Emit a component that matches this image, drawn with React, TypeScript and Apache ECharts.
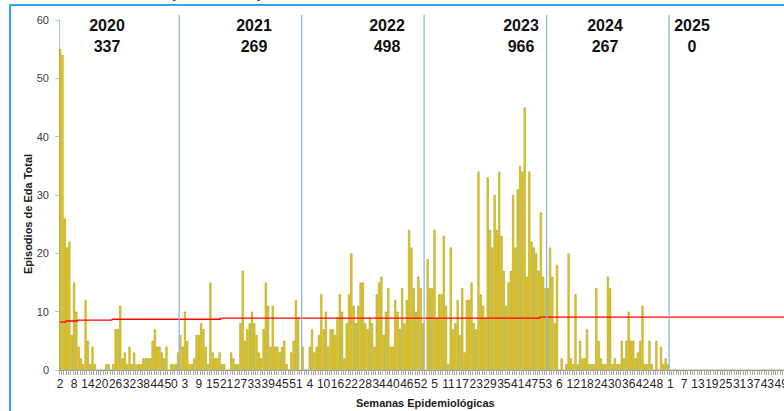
import React, { useEffect, useRef } from "react";
import * as echarts from "echarts";

// ---- data ----
const years = ["2020", "2021", "2022", "2023", "2024", "2025"];
const yearTotals = ["337", "269", "498", "966", "267", "0"];
const firstWeek = [2, 1, 1, 1, 1, 1];
const lastWeek = 53;

const cases2020 = [55, 54, 26, 21, 22, 6, 15, 10, 4, 2, 1, 12, 5, 1, 4, 1, 0, 0, 0, 0, 1, 1, 0, 1, 7, 7, 11, 2, 3, 1, 4, 1, 3, 1, 1, 1, 2, 2, 2, 2, 5, 7, 4, 4, 3, 2, 4, 0, 1, 1, 1, 3];
const cases2021 = [6, 4, 10, 5, 1, 1, 2, 6, 6, 8, 7, 4, 1, 15, 3, 2, 2, 3, 1, 1, 0, 0, 3, 2, 1, 1, 8, 17, 5, 7, 8, 10, 8, 6, 3, 2, 7, 15, 11, 4, 11, 4, 4, 3, 4, 5, 1, 0, 3, 5, 12, 9, 0];
const cases2022 = [4, 0, 0, 4, 7, 3, 4, 6, 13, 7, 10, 4, 7, 7, 6, 9, 13, 10, 2, 8, 13, 20, 11, 8, 11, 15, 15, 8, 7, 9, 8, 4, 13, 15, 16, 6, 10, 14, 4, 4, 12, 10, 7, 14, 8, 12, 24, 21, 14, 10, 16, 14, 8];
const cases2023 = [0, 19, 14, 14, 24, 9, 13, 13, 23, 11, 1, 21, 7, 8, 12, 6, 14, 3, 12, 12, 15, 8, 7, 34, 13, 11, 9, 33, 24, 21, 30, 24, 34, 23, 17, 11, 15, 17, 30, 21, 31, 35, 34, 45, 16, 34, 22, 21, 20, 17, 27, 16, 14];
const cases2024 = [14, 21, 16, 8, 18, 0, 2, 0, 1, 20, 2, 1, 13, 1, 5, 2, 2, 7, 1, 1, 1, 14, 5, 2, 1, 1, 16, 14, 1, 2, 1, 1, 5, 2, 5, 10, 5, 5, 2, 3, 5, 11, 1, 1, 5, 1, 0, 5, 0, 4, 1, 2, 1];
const cases2025 = [0, 0, 0, 0, 0, 0, 0, 0, 0, 0, 0, 0, 0, 0, 0, 0, 0, 0, 0, 0, 0, 0, 0, 0, 0, 0, 0, 0, 0, 0, 0, 0, 0, 0, 0, 0, 0, 0, 0, 0, 0, 0, 0, 0, 0, 0, 0, 0, 0, 0, 0, 0, 0];

// alert threshold (red step line): [number of weeks, value]
const thresholdRuns: [number, number][] = [
  [3, 8.2],
  [5, 8.4],
  [15, 8.55],
  [47, 8.7],
  [138, 8.9],
  [109, 9.05],
];

const yearSeries = [cases2020, cases2021, cases2022, cases2023, cases2024, cases2025];

// ---- layout (pixels) ----
const yearLabelX = [107, 254, 387, 521, 605, 692];
const FONT = "'Liberation Sans', Arial, sans-serif";

export default function App() {
  const ref = useRef<HTMLDivElement>(null);

  useEffect(() => {
    if (!ref.current) return;
    const chart = echarts.init(ref.current, null, { renderer: "svg" });

    const categories: string[] = [];
    const values: number[] = [];
    const yearStartIndex: number[] = [];
    yearSeries.forEach((arr, yi) => {
      yearStartIndex.push(categories.length);
      for (let w = firstWeek[yi]; w <= lastWeek; w++) categories.push(String(w));
      arr.forEach((v) => values.push(v));
    });
    const threshold: number[] = [];
    thresholdRuns.forEach(([n, v]) => {
      for (let k = 0; k < n; k++) threshold.push(v);
    });

    const N = categories.length;
    const catW = 2.311;

    chart.setOption({
      animation: false,
      backgroundColor: "#ffffff",
      grid: { left: 59, top: 20, width: N * catW, height: 350, containLabel: false },
      xAxis: {
        type: "category",
        data: categories,
        boundaryGap: true,
        name: "Semanas Epidemiológicas",
        nameLocation: "middle",
        nameGap: 27,
        nameTextStyle: { fontFamily: FONT, fontSize: 11, fontWeight: "bold", color: "#1a1a1a" },
        axisLine: { lineStyle: { color: "#a6a6a6", width: 1 } },
        axisTick: { show: true, interval: 0, length: 5, lineStyle: { color: "#a6a6a6" } },
        axisLabel: { interval: 5, margin: 8, fontFamily: FONT, fontSize: 12, color: "#262626" },
        splitLine: { show: false },
      },
      yAxis: {
        type: "value",
        min: 0,
        max: 60,
        interval: 10,
        axisLine: { show: true, lineStyle: { color: "#bfbfbf" } },
        axisTick: { show: true, length: 4, lineStyle: { color: "#bfbfbf" } },
        axisLabel: { margin: 10, fontFamily: FONT, fontSize: 11, color: "#404040" },
        splitLine: { show: false },
      },
      series: [
        {
          type: "bar",
          data: values,
          barCategoryGap: "10%",
          itemStyle: { color: "#FFC400", borderColor: "#78973A", borderWidth: 0.45 },
        },
        {
          type: "line",
          data: threshold,
          step: "middle",
          symbol: "none",
          lineStyle: { color: "#FF0000", width: 1.3 },
          z: 5,
        },
      ],
    });

    const graphics: any[] = [];
    // chart frame
    graphics.push({
      type: "rect",
      shape: { x: 10, y: 5, width: 900, height: 500 },
      style: { fill: "none", stroke: "#2EA6E8", lineWidth: 2 },
      silent: true,
    });
    // partially visible title (only its lowest edge shows above the frame)
    graphics.push({
      type: "text",
      x: 170,
      y: -8,
      style: {
        text: "(2020-2025)",
        font: `bold 17px ${FONT}`,
        fill: "#1F3864",
        textAlign: "left",
        textVerticalAlign: "middle",
      },
      silent: true,
    });
    // year separators
    for (let yi = 1; yi < yearStartIndex.length; yi++) {
      const k = yearStartIndex[yi];
      const a = chart.convertToPixel({ xAxisIndex: 0 }, k - 1) as number;
      const b = chart.convertToPixel({ xAxisIndex: 0 }, k) as number;
      const x = (a + b) / 2;
      graphics.push({
        type: "line",
        shape: { x1: x, y1: 15, x2: x, y2: 370 },
        style: { stroke: "#8DB6E4", lineWidth: 1.3 },
        z: 10,
        silent: true,
      });
    }
    // year labels and totals
    years.forEach((y, yi) => {
      graphics.push({
        type: "text",
        x: yearLabelX[yi],
        y: 25,
        style: { text: y, font: `bold 16px ${FONT}`, fill: "#111111", textAlign: "center", textVerticalAlign: "middle" },
        z: 20,
      });
      graphics.push({
        type: "text",
        x: yearLabelX[yi],
        y: 46,
        style: { text: yearTotals[yi], font: `bold 16px ${FONT}`, fill: "#111111", textAlign: "center", textVerticalAlign: "middle" },
        z: 20,
      });
    });
    // y axis title
    graphics.push({
      type: "text",
      x: 28,
      y: 214,
      rotation: Math.PI / 2,
      style: {
        text: "Episodios de Eda Total",
        font: `bold 11px ${FONT}`,
        fill: "#1a1a1a",
        textAlign: "center",
        textVerticalAlign: "middle",
      },
      z: 20,
    });

    chart.setOption({ graphic: graphics });

    return () => chart.dispose();
  }, []);

  return (
    <div style={{ position: "fixed", left: 0, top: 0, width: 784, height: 411, overflow: "hidden", background: "#fff" }}>
      <div ref={ref} style={{ position: "absolute", left: 0, top: 0, width: 830, height: 425 }} />
    </div>
  );
}
